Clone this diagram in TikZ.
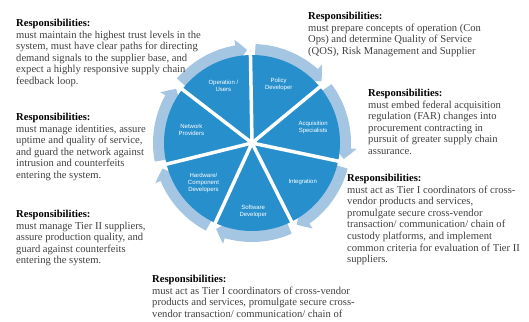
\documentclass[tikz,border=0pt]{standalone}
\usepackage{fontspec}
\setmainfont{Liberation Serif}
\newfontfamily\wheelsans{Liberation Sans}
\usepackage{xcolor}
\usepackage{tikz}
\usetikzlibrary{arrows.meta,bending,calc}
\definecolor{WheelBlue}{HTML}{2790CC}
\definecolor{WheelRing}{HTML}{A5C6E2}
\definecolor{RespGray}{HTML}{404040}

\begin{document}
\begin{tikzpicture}[
  x=1pt, y=1pt,
  resp/.style={anchor=north west, inner sep=0pt, align=left, text=RespGray, font=\fontsize{10.6}{11.6}\selectfont},
  seg/.style={text=white, align=center, inner sep=0pt, font=\wheelsans\fontsize{6}{7}\selectfont},
  ring/.style={draw=WheelRing, line width=12pt, -{Triangle[width=23pt, length=11pt, bend]}},
  divider/.style={draw=white, line width=3.5pt}
]
  \useasboundingbox (0,0) rectangle (529,321);
  \coordinate (hub) at (252,178);

  % cycle arrows, clockwise
  \draw[ring] ($(hub)+(88:93)$) arc[start angle=88, end angle=41.6, radius=93pt];
  \draw[ring] ($(hub)+(36.6:93)$) arc[start angle=36.6, end angle=-9.9, radius=93pt];
  \draw[ring] ($(hub)+(-14.9:93)$) arc[start angle=-14.9, end angle=-61.3, radius=93pt];
  \draw[ring] ($(hub)+(-66.3:93)$) arc[start angle=-66.3, end angle=-112.7, radius=93pt];
  \draw[ring] ($(hub)+(-117.7:93)$) arc[start angle=-117.7, end angle=-164.1, radius=93pt];
  \draw[ring] ($(hub)+(-169.1:93)$) arc[start angle=-169.1, end angle=-215.6, radius=93pt];
  \draw[ring] ($(hub)+(139.4:93)$) arc[start angle=139.4, end angle=93, radius=93pt];

  % the wheel and its spokes
  \fill[WheelBlue] (hub) circle[radius=88pt];
  \draw[divider] (hub) -- ($(hub)+(91:105)$);
  \draw[divider] (hub) -- ($(hub)+(39.6:105)$);
  \draw[divider] (hub) -- ($(hub)+(-11.9:105)$);
  \draw[divider] (hub) -- ($(hub)+(-63.3:105)$);
  \draw[divider] (hub) -- ($(hub)+(-114.7:105)$);
  \draw[divider] (hub) -- ($(hub)+(-166.1:105)$);
  \draw[divider] (hub) -- ($(hub)+(142.4:105)$);

  \node[seg] (users) at ($(hub)+(116.6:64)$) {Operation /\\Users};
  \node[seg] (policy) at ($(hub)+(65.3:64)$) {Policy\\Developer};
  \node[seg] (acq) at ($(hub)+(13.9:63)$) {Acquisition\\Specialists};
  \node[seg] (integ) at ($(hub)+(-37.6:64)$) {Integration};
  \node[seg] (soft) at ($(hub)+(-89:68)$) {Software\\Developer};
  \node[seg] (hard) at ($(hub)+(-140.4:63)$) {Hardware/\\Component\\Developers};
  \node[seg] (net) at ($(hub)+(168.1:62)$) {Network\\Providers};

  % responsibilities of each role
  \node[resp] (usersresp) at (16,302) {\textbf{\color{black}Responsibilities:}\\must maintain the highest trust levels in the\\system, must have clear paths for directing\\demand signals to the supplier base, and\\expect a highly responsive supply chain\\feedback loop.};
  \node[resp] (policyresp) at (308,309) {\textbf{\color{black}Responsibilities:}\\must prepare concepts of operation (Con\\Ops) and determine Quality of Service\\(QOS), Risk Management and Supplier};
  \node[resp] (acqresp) at (368,232) {\textbf{\color{black}Responsibilities:}\\must embed federal acquisition\\regulation (FAR) changes into\\procurement contracting in\\pursuit of greater supply chain\\assurance.};
  \node[resp] (integresp) at (347,147) {\textbf{\color{black}Responsibilities:}\\must act as Tier I coordinators of cross-\\vendor products and services,\\promulgate secure cross-vendor\\transaction/ communication/ chain of\\custody platforms, and implement\\common criteria for evaluation of Tier II\\suppliers.};
  \node[resp] (softresp) at (152,46) {\textbf{\color{black}Responsibilities:}\\must act as Tier I coordinators of cross-vendor\\products and services, promulgate secure cross-\\vendor transaction/ communication/ chain of};
  \node[resp] (hardresp) at (16,111) {\textbf{\color{black}Responsibilities:}\\must manage Tier II suppliers,\\assure production quality, and\\guard against counterfeits\\entering the system.};
  \node[resp] (netresp) at (16,208) {\textbf{\color{black}Responsibilities:}\\must manage identities, assure\\uptime and quality of service,\\and guard the network against\\intrusion and counterfeits\\entering the system.};
\end{tikzpicture}
\end{document}
